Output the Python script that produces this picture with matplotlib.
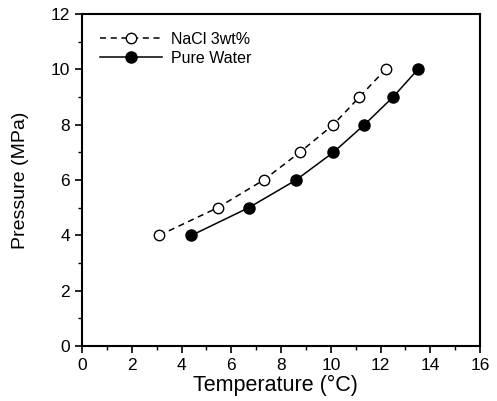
import matplotlib
matplotlib.use('Agg')
import matplotlib.pyplot as plt
from matplotlib.ticker import MultipleLocator

plt.rcParams['font.family'] = ['Liberation Sans', 'DejaVu Sans']

# data
pressure = [4, 5, 6, 7, 8, 9, 10]
t_nacl = [3.1, 5.45, 7.3, 8.75, 10.1, 11.15, 12.2]
t_water = [4.4, 6.7, 8.6, 10.1, 11.35, 12.5, 13.5]

fig = plt.figure(figsize=(4.97, 4.01), dpi=100)
ax = fig.add_axes([0.165, 0.137, 0.801, 0.828])

ax.plot(t_nacl, pressure, 'k--', marker='o', mfc='white', mec='black',
        ms=7.5, lw=1.1, dashes=(4, 3), label='NaCl 3wt%')
ax.plot(t_water, pressure, 'k-', marker='o', mfc='black', mec='black',
        ms=8, lw=1.1, label='Pure Water')

ax.set_xlim(0, 16)
ax.set_ylim(0, 12)
ax.xaxis.set_major_locator(MultipleLocator(2))
ax.xaxis.set_minor_locator(MultipleLocator(1))
ax.yaxis.set_major_locator(MultipleLocator(2))
ax.yaxis.set_minor_locator(MultipleLocator(1))
ax.tick_params(which='major', direction='out', length=5, width=1.2, labelsize=12.5)
ax.tick_params(which='minor', direction='out', length=3, width=1.0)
for s in ax.spines.values():
    s.set_linewidth(1.5)

ax.set_xlabel('Temperature (°C)', fontsize=15.5)
ax.set_ylabel('Pressure (MPa)', fontsize=14)
ax.xaxis.set_label_coords(0.487, -0.088)
ax.yaxis.set_label_coords(-0.132, 0.5)

ax.legend(loc='upper left', frameon=False, fontsize=11.5, handlelength=3.9,
          handletextpad=0.6, borderaxespad=0.7, labelspacing=0.25)

fig.savefig('out.png', dpi=100)
